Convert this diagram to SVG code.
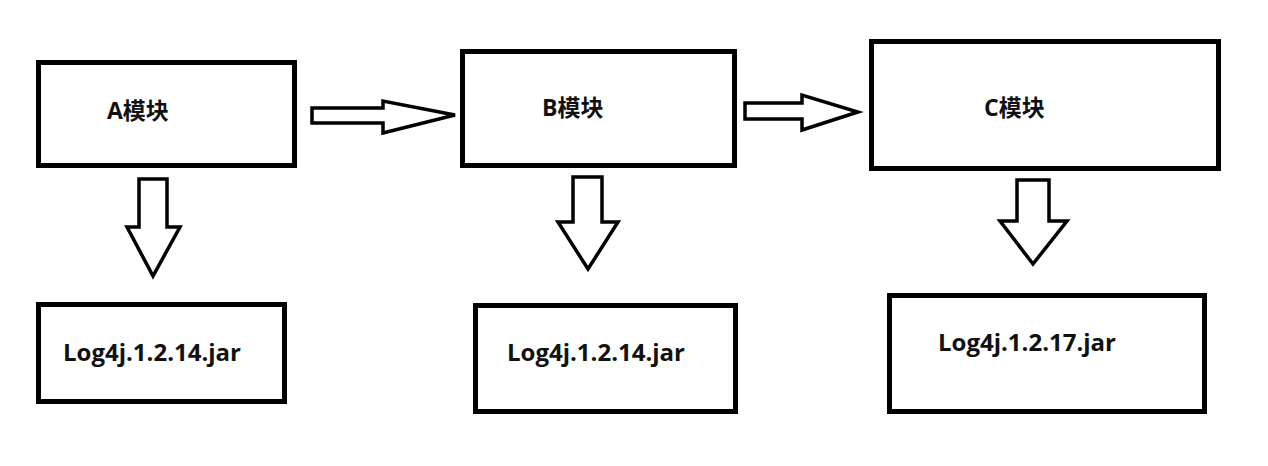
<svg xmlns="http://www.w3.org/2000/svg" width="1268" height="466" viewBox="0 0 1268 466">
<style>
.box{fill:#fff;stroke:#000;stroke-width:5}
.arr{fill:#fff;stroke:#000;stroke-width:3.5;stroke-linejoin:miter}
.t{font-family:"Open Sans","Noto Sans CJK SC",sans-serif;font-weight:bold;fill:#111}
.m{font-size:23px}
.j{font-size:24px}
</style>
<rect width="1268" height="466" fill="#fff"/>
<g id="connectors">
<polygon class="arr" points="312,108 383,108 383,101 455,115 383,133 383,123 312,123"/>
<polygon class="arr" points="745,103 802,103 802,95 858,112 802,130 802,119 745,119"/>
<polygon class="arr" points="139,179 167,179 167,227 180,227 153,276 127,227 139,227"/>
<polygon class="arr" points="573,177 602,177 602,222 618,222 588,269 558,222 573,222"/>
<polygon class="arr" points="1017,180 1049,180 1049,221 1067,221 1033,264 1000,221 1017,221"/>
</g>
<g id="nodeA"><rect class="box" x="38.5" y="62.5" width="256" height="103"/><text class="t m" x="107" y="119">A模块</text></g>
<g id="nodeB"><rect class="box" x="462.5" y="51.5" width="272" height="114"/><text class="t m" x="542" y="116">B模块</text></g>
<g id="nodeC"><rect class="box" x="871.5" y="41.5" width="347" height="127"/><text class="t m" x="984" y="116">C模块</text></g>
<g id="jarA"><rect class="box" x="38.5" y="304.5" width="246" height="97"/><text class="t j" x="63" y="361">Log4j.1.2.14.jar</text></g>
<g id="jarB"><rect class="box" x="475.5" y="305.5" width="260" height="106"/><text class="t j" x="507" y="361">Log4j.1.2.14.jar</text></g>
<g id="jarC"><rect class="box" x="889.5" y="295.5" width="315" height="116"/><text class="t j" x="938" y="351">Log4j.1.2.17.jar</text></g>
</svg>
